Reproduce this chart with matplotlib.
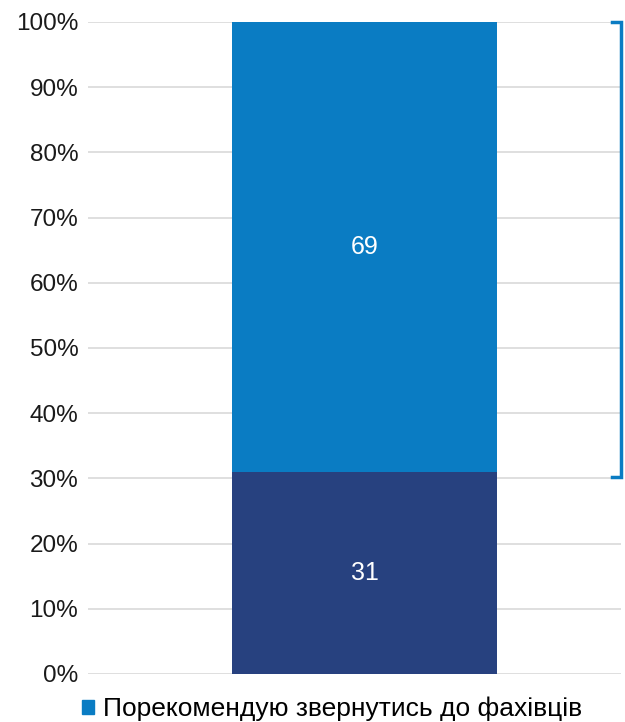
import matplotlib
matplotlib.use("Agg")
import matplotlib.pyplot as plt
from matplotlib.patches import Patch

categories = [""]
bottom_vals = [31]
top_vals = [69]
legend_label = "Порекомендую звернутись до фахівців"
yticks = [0, 10, 20, 30, 40, 50, 60, 70, 80, 90, 100]

plt.rcParams['font.family'] = ['Liberation Sans', 'DejaVu Sans']

W, H = 625, 722
fig = plt.figure(figsize=(W/100, H/100), dpi=100)
left, right, top, bottom = 88, 621, 22, 674
ax = fig.add_axes([left/W, 1-bottom/H, (right-left)/W, (bottom-top)/H])

c_bottom = "#27417F"
c_top = "#0A7CC3"
x = [0]
ax.bar(x, bottom_vals, width=1.0, color=c_bottom, zorder=3)
ax.bar(x, top_vals, bottom=bottom_vals, width=1.0, color=c_top, zorder=3)

for xi, b, t in zip(x, bottom_vals, top_vals):
    ax.text(xi, b/2, f"{b}", ha="center", va="center", color="white", fontsize=18, zorder=4)
    ax.text(xi, b + t/2, f"{t}", ha="center", va="center", color="white", fontsize=18, zorder=4)

# bar spans 232..497 px
cx = (232 + 497) / 2
bw = 497 - 232
ax.set_xlim(-(cx-left)/bw, (right-cx)/bw)
ax.set_ylim(0, 100)
ax.set_yticks(yticks)
ax.set_yticklabels([f"{v}%" for v in yticks], fontsize=17.5, color="#1a1a1a")
ax.set_xticks([])
ax.tick_params(axis='y', length=0, pad=7)
for s in ax.spines.values():
    s.set_visible(False)
ax.grid(axis='y', color="#D9D9D9", linewidth=1.2, zorder=0)

# bracket on right spanning top segment
xr = ax.get_xlim()[1]
btm = bottom_vals[0] - 0.8
topv = bottom_vals[0] + top_vals[0]
ax.plot([xr - 0.035, xr, xr, xr - 0.035], [topv, topv, btm, btm],
        color="#0A7CC3", linewidth=2.5, clip_on=False, zorder=5, solid_joinstyle='miter')

fig.legend(handles=[Patch(color=c_top, label=legend_label)],
           loc="center left", bbox_to_anchor=(82/W, 1-709/H), frameon=False,
           fontsize=19, handlelength=0.46, handleheight=0.46, handletextpad=0.35,
           borderpad=0, borderaxespad=0)

fig.savefig("out.png", dpi=100)
